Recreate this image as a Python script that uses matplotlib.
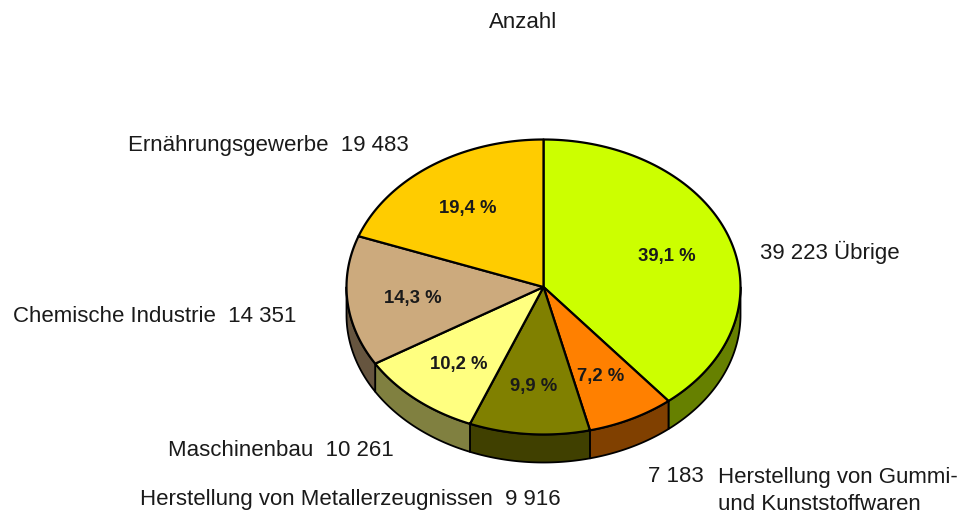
import numpy as np
import matplotlib
matplotlib.use('Agg')
import matplotlib.pyplot as plt

plt.rcParams['font.family'] = ['Liberation Sans', 'DejaVu Sans']

# Values, clockwise from 12 o'clock
branches = ['Übrige', 'Gummi', 'Metall', 'Maschinenbau', 'Chemie', 'Ernährung']
counts = [39223, 7183, 9916, 10261, 14351, 19483]
pct_labels = ['39,1 %', '7,2 %', '9,9 %', '10,2 %', '14,3 %', '19,4 %']
top_colors = ['#ccff00', '#ff8000', '#808000', '#ffff80', '#ccaa7d', '#ffcc00']
side_colors = ['#668000', '#804000', '#404000', '#808040', '#66553f', '#806600']

W, H = 963, 515
fig = plt.figure(figsize=(W / 100, H / 100), dpi=100)
ax = fig.add_axes([0, 0, 1, 1])
ax.set_xlim(0, W)
ax.set_ylim(H, 0)
ax.axis('off')

cx, cy, rx, ry = 543.5, 287, 197, 147.5
depth = 28


def edge(theta):
    # theta is clockwise from the top, in radians
    return cx + rx * np.sin(theta), cy - ry * np.cos(theta)


edges = np.concatenate([[0], np.cumsum(counts)]) / np.sum(counts) * 2 * np.pi

# side wall first, only the part facing the viewer
for i in range(len(counts)):
    a = max(edges[i], np.pi / 2)
    b = min(edges[i + 1], 3 * np.pi / 2)
    if b <= a:
        continue
    t = np.linspace(a, b, 100)
    x, y = edge(t)
    ax.fill(np.r_[x, x[::-1]], np.r_[y, y[::-1] + depth], facecolor=side_colors[i],
            edgecolor='black', lw=1.3, joinstyle='round')

# top face
for i in range(len(counts)):
    t = np.linspace(edges[i], edges[i + 1], 100)
    x, y = edge(t)
    ax.fill(np.r_[cx, x], np.r_[cy, y], facecolor=top_colors[i], edgecolor='black',
            lw=1.6, joinstyle='round')

pct_pos = [(667, 256), (601, 377), (534, 387), (459, 364), (413, 298), (468, 208)]
for p, (px, py) in zip(pct_labels, pct_pos):
    ax.text(px, py, p, ha='center', va='center', fontsize=13.3, fontweight='bold', color='#1a1a1a')

fs = 16
ax.text(523, 22, 'Anzahl', ha='center', va='center', fontsize=fs, color='#1a1a1a')
ax.text(128, 145, 'Ernährungsgewerbe  19 483', ha='left', va='center', fontsize=fs, color='#1a1a1a')
ax.text(760, 252, '39 223 Übrige', ha='left', va='center', fontsize=fs, color='#1a1a1a')
ax.text(13, 316, 'Chemische Industrie  14 351', ha='left', va='center', fontsize=fs, color='#1a1a1a')
ax.text(168, 450, 'Maschinenbau  10 261', ha='left', va='center', fontsize=fs, color='#1a1a1a')
ax.text(140, 500, 'Herstellung von Metallerzeugnissen  9 916', ha='left', va='center', fontsize=fs, color='#1a1a1a')
ax.text(648, 477, '7 183', ha='left', va='center', fontsize=fs, color='#1a1a1a')
ax.text(718, 477, 'Herstellung von Gummi-', ha='left', va='center', fontsize=fs, color='#1a1a1a')
ax.text(718, 504, 'und Kunststoffwaren', ha='left', va='center', fontsize=fs, color='#1a1a1a')

fig.savefig('out.png', dpi=100)
